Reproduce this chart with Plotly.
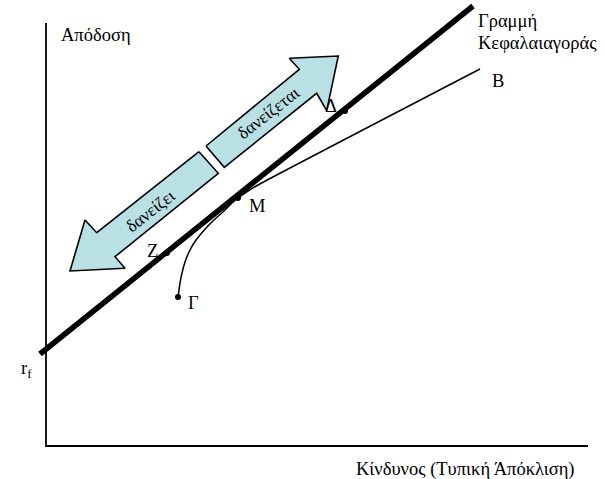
import plotly.graph_objects as go

# Capital Market Line (risk, return)
cml_risk = [-0.06, 4.27]
cml_return = [0.92, 4.40]

# Efficient frontier curve Γ -> M -> B
frontier_risk = [1.32, 1.33, 1.34, 1.36, 1.39, 1.43, 1.48, 1.54, 1.61, 1.69, 1.78, 1.86, 1.92, 2.02, 2.12, 4.34]
frontier_return = [1.49, 1.56, 1.63, 1.73, 1.84, 1.94, 2.03, 2.11, 2.19, 2.27, 2.35, 2.43, 2.48, 2.55, 2.61, 3.77]

# Marked portfolios
point_names = ["Γ", "Z", "M", "Δ"]
point_risk = [1.32, 1.21, 1.92, 2.99]
point_return = [1.49, 1.93, 2.48, 3.35]

# Block arrows (outline vertices)
arrow_up_risk = [1.60, 2.533, 2.433, 2.923, 2.807, 2.707, 1.783, 1.60]
arrow_up_return = [3.00, 3.767, 3.877, 3.90, 3.353, 3.527, 2.787, 3.00]
arrow_down_risk = [1.53, 0.507, 0.39, 0.24, 0.79, 0.69, 1.723, 1.53]
arrow_down_return = [2.943, 2.133, 2.26, 1.75, 1.777, 1.893, 2.727, 2.943]

FONT = "Liberation Serif"
FILL = "#b9e0e4"

fig = go.Figure()

for xs, ys in [(arrow_up_risk, arrow_up_return), (arrow_down_risk, arrow_down_return)]:
    fig.add_trace(go.Scatter(x=xs, y=ys, mode="lines", fill="toself", fillcolor=FILL,
                             line=dict(color="black", width=1.6), hoverinfo="skip", showlegend=False))

# axes
fig.add_trace(go.Scatter(x=[0, 0, 5.42], y=[4.23, 0, 0], mode="lines",
                         line=dict(color="black", width=1.8), hoverinfo="skip", showlegend=False))

# frontier
fig.add_trace(go.Scatter(x=frontier_risk, y=frontier_return, mode="lines",
                         line=dict(color="black", width=1.5, shape="spline", smoothing=0.6),
                         hoverinfo="skip", showlegend=False))

# CML
fig.add_trace(go.Scatter(x=cml_risk, y=cml_return, mode="lines",
                         line=dict(color="black", width=5.5), hoverinfo="skip", showlegend=False))

# points
fig.add_trace(go.Scatter(x=point_risk, y=point_return, mode="markers",
                         marker=dict(color="black", size=6), hoverinfo="skip", showlegend=False))

def label(x, y, text, size=18.5, xanchor="center", angle=0):
    fig.add_annotation(x=x, y=y, text=text, showarrow=False, xanchor=xanchor, yanchor="middle",
                       textangle=angle, font=dict(family=FONT, size=size, color="black"))

label(0.13, 4.11, "Απόδοση", xanchor="left")
label(4.30, 4.25, "Γραμμή", xanchor="left")
label(4.30, 4.03, "Κεφαλαιαγοράς", xanchor="left")
label(4.52, 3.655, "B")
label(2.845, 3.40, "Δ")
label(2.105, 2.40, "M")
label(1.065, 1.955, "Z")
label(1.47, 1.435, "Γ")
label(-0.20, 0.77, "r<sub>f</sub>")
label(4.19, -0.23, "Κίνδυνος (Τυπική Άπόκλιση)")
label(2.22, 3.33, "δανείζεται", size=17.5, angle=-38)
label(1.04, 2.35, "δανείζει", size=17.5, angle=-38)

fig.update_layout(
    width=604, height=479,
    margin=dict(l=0, r=0, t=0, b=0),
    paper_bgcolor="white", plot_bgcolor="white",
    xaxis=dict(range=[-0.46, 5.58], visible=False),
    yaxis=dict(range=[-0.33, 4.46], visible=False),
    showlegend=False,
)

fig.write_html("out.html", config={"displayModeBar": False},
               post_script="document.body.style.margin='0';document.body.style.overflow='hidden';")
